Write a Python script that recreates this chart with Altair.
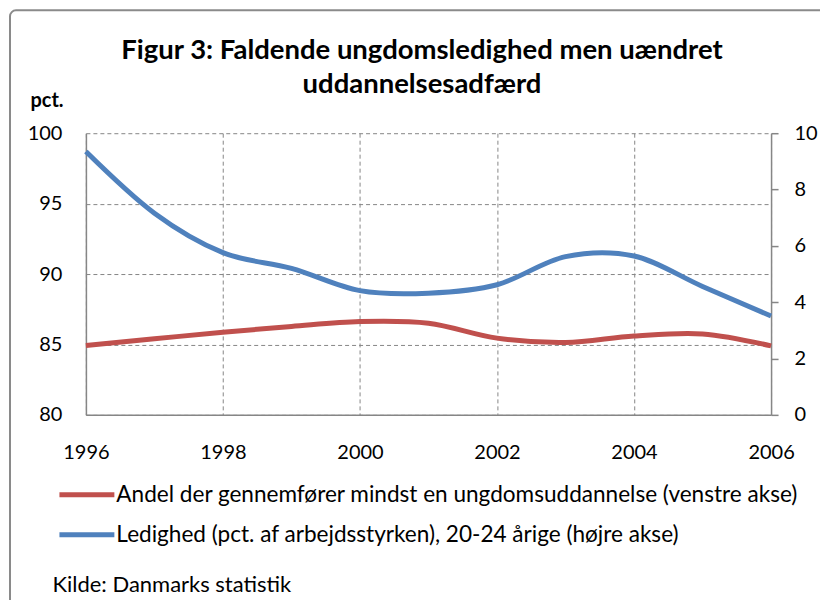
import altair as alt
import pandas as pd

years = list(range(1996, 2007))
andel = [84.93, 85.40, 85.87, 86.28, 86.63, 86.51, 85.45, 85.14, 85.60, 85.75, 84.90]
ledighed = [9.35, 7.16, 5.76, 5.20, 4.41, 4.32, 4.62, 5.62, 5.64, 4.56, 3.51]

title_lines = ["Figur 3: Faldende ungdomsledighed men uændret", "uddannelsesadfærd"]
series_names = [
    "Andel der gennemfører mindst en ungdomsuddannelse (venstre akse)",
    "Ledighed (pct. af arbejdsstyrken), 20-24 årige (højre akse)",
]
series_colors = ["#C0504D", "#4F81BD"]
left_ticks = [80, 85, 90, 95, 100]
right_ticks = [0, 2, 4, 6, 8, 10]
x_ticks = [1996, 1998, 2000, 2002, 2004, 2006]
left_unit = "pct."
source_text = "Kilde: Danmarks statistik"

FONT = "Lato"
GRAY = "#868686"

df = pd.DataFrame({"year": years, "andel": andel, "ledighed": ledighed})

color_scale = alt.Scale(domain=series_names, range=series_colors)
legend = alt.Legend(
    orient="none", legendX=-11.5, legendY=349.5, title=None,
    symbolType="M-2.75,0H2.75", symbolSize=400, symbolStrokeWidth=5,
    labelFont=FONT, labelFontSize=22.6, labelColor="black", labelLimit=0,
    labelOffset=17, rowPadding=15, padding=0, direction="vertical",
)

x_enc = alt.X(
    "year:Q",
    scale=alt.Scale(domain=[1996, 2006], nice=False, zero=False),
    axis=alt.Axis(
        values=x_ticks, format="d", ticks=False, tickSize=0, labelPadding=28,
        labelFlush=False, grid=True, title=source_text, titleX=-34, titleY=170,
        titleAlign="left", titleBaseline="middle", titleFontWeight="normal",
        titleFont=FONT, titleFontSize=22, titleColor="black",
    ),
)

base = alt.Chart(df)

red = base.transform_calculate(series=f"'{series_names[0]}'").mark_line(
    strokeWidth=5, interpolate="cardinal"
).encode(
    x=x_enc,
    y=alt.Y(
        "andel:Q",
        scale=alt.Scale(domain=[80, 100], nice=False, zero=False),
        axis=alt.Axis(
            orient="left", values=left_ticks, ticks=False, tickSize=0,
            labelPadding=24, grid=True, title=left_unit, titleAngle=0,
            titleX=-56, titleY=-33, titleAlign="left", titleBaseline="middle",
            titleFont=FONT, titleFontSize=20, titleFontWeight="bold",
            titleColor="black",
        ),
    ),
    color=alt.Color("series:N", scale=color_scale, legend=legend),
)

blue = base.transform_calculate(series=f"'{series_names[1]}'").mark_line(
    strokeWidth=5, interpolate="cardinal"
).encode(
    x=x_enc,
    y=alt.Y(
        "ledighed:Q",
        scale=alt.Scale(domain=[0, 10], nice=False),
        axis=alt.Axis(
            orient="right", values=right_ticks, ticks=True, tickSize=7,
            tickColor=GRAY, tickWidth=1.5, labelPadding=16, grid=False, title=None,
        ),
    ),
    color=alt.Color("series:N", scale=color_scale, legend=legend),
)

frame = alt.Chart(alt.Data(values=[{}])).mark_rect(
    fillOpacity=0, stroke="#8a8a8a", strokeWidth=2, cornerRadius=6
).encode(
    x=alt.value(-76), y=alt.value(-123), x2=alt.value(760), y2=alt.value(490)
)

chart = alt.layer(frame, red, blue).resolve_scale(y="independent").properties(
    width=686,
    height=282,
    padding={"left": 78, "top": 125, "right": 49, "bottom": 185},
    autosize=alt.AutoSizeParams(type="none"),
    title=alt.TitleParams(
        text=title_lines, font=FONT, fontSize=27.5, fontWeight="bold",
        color="black", anchor="middle", frame="group", offset=-111,
        baseline="alphabetic", lineHeight=34, dx=-6.5,
    ),
).configure_view(stroke=None).configure_axis(
    labelFont=FONT, labelFontSize=20, labelColor="black",
    domainColor=GRAY, domainWidth=1.5,
    gridColor=GRAY, gridDash=[4, 3], gridWidth=1,
)

chart.save("out.html", embed_options={"renderer": "svg", "actions": False})
